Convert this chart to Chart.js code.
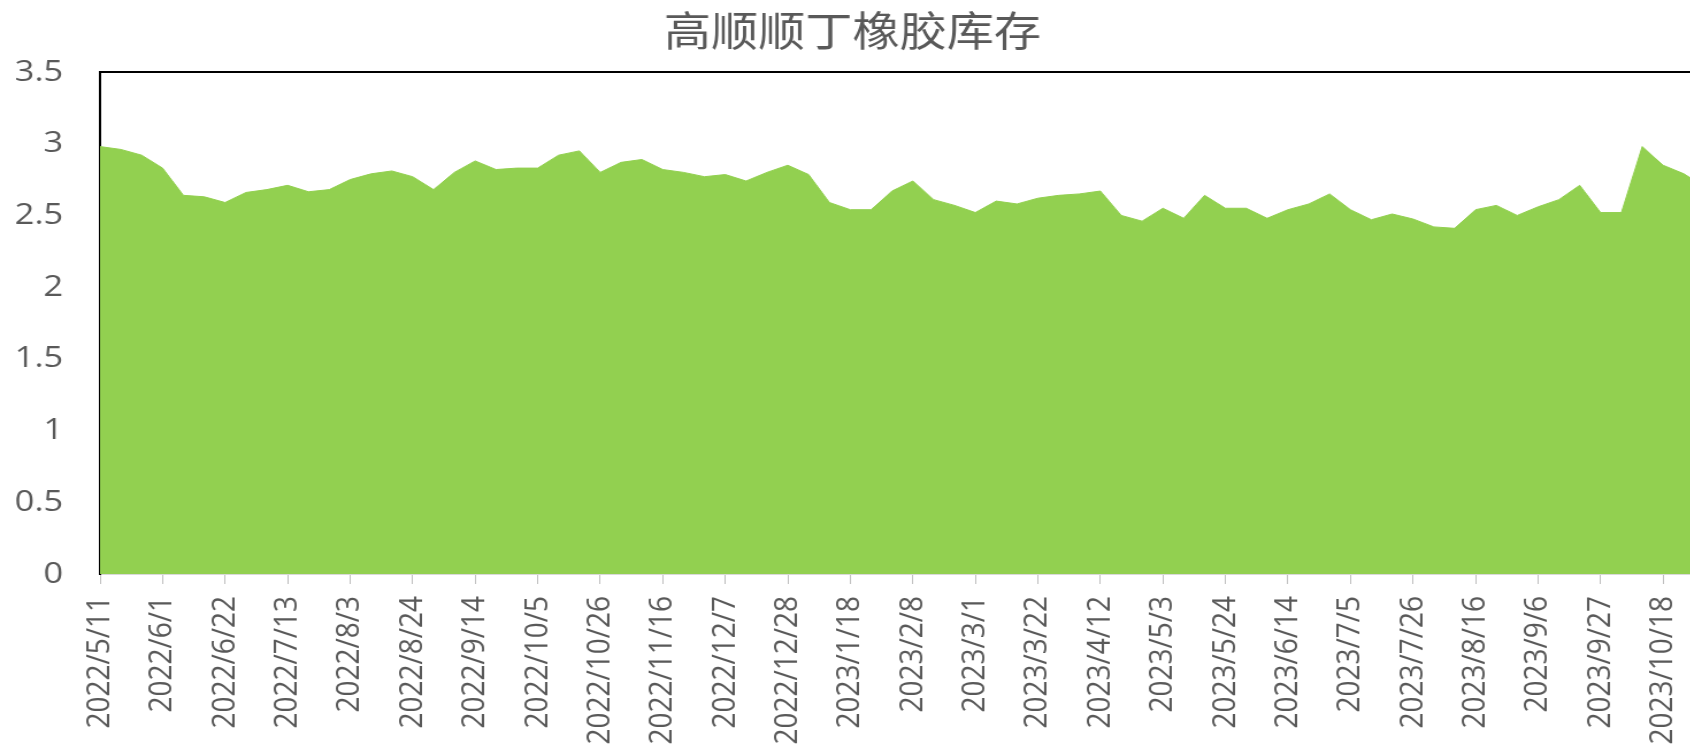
<!DOCTYPE html>
<html>
<head>
<meta charset="utf-8">
<script src="https://cdn.jsdelivr.net/npm/chart.js@4/dist/chart.umd.min.js"></script>
<style>
  html, body { margin: 0; padding: 0; overflow: hidden; background: #fff; }
  #wrap { width: 1496px; height: 800px; transform: scaleX(1.15); transform-origin: 0 0; }
</style>
</head>
<body>
<div id="wrap"><canvas id="myChart" width="1496" height="800"></canvas></div>
<script>
// weekly dates
const dates = [
  '2022/5/11','2022/5/18','2022/5/25','2022/6/1','2022/6/8','2022/6/15','2022/6/22','2022/6/29',
  '2022/7/6','2022/7/13','2022/7/20','2022/7/27','2022/8/3','2022/8/10','2022/8/17','2022/8/24',
  '2022/8/31','2022/9/7','2022/9/14','2022/9/21','2022/9/28','2022/10/5','2022/10/12','2022/10/19',
  '2022/10/26','2022/11/2','2022/11/9','2022/11/16','2022/11/23','2022/11/30','2022/12/7','2022/12/14',
  '2022/12/21','2022/12/28','2023/1/4','2023/1/11','2023/1/18','2023/1/25','2023/2/1','2023/2/8',
  '2023/2/15','2023/2/22','2023/3/1','2023/3/8','2023/3/15','2023/3/22','2023/3/29','2023/4/5',
  '2023/4/12','2023/4/19','2023/4/26','2023/5/3','2023/5/10','2023/5/17','2023/5/24','2023/5/31',
  '2023/6/7','2023/6/14','2023/6/21','2023/6/28','2023/7/5','2023/7/12','2023/7/19','2023/7/26',
  '2023/8/2','2023/8/9','2023/8/16','2023/8/23','2023/8/30','2023/9/6','2023/9/13','2023/9/20',
  '2023/9/27','2023/10/4','2023/10/11','2023/10/18','2023/10/25','2023/11/1'
];

// inventory (万吨)
const stock = [
  2.98, 2.96, 2.92, 2.83, 2.64, 2.63, 2.59, 2.66,
  2.68, 2.71, 2.665, 2.68, 2.75, 2.79, 2.81, 2.77,
  2.68, 2.80, 2.88, 2.82, 2.83, 2.83, 2.92, 2.95,
  2.80, 2.87, 2.89, 2.82, 2.80, 2.77, 2.785, 2.74,
  2.80, 2.85, 2.785, 2.59, 2.54, 2.54, 2.67, 2.74,
  2.61, 2.57, 2.52, 2.60, 2.58, 2.62, 2.64, 2.65,
  2.67, 2.50, 2.46, 2.55, 2.48, 2.64, 2.55, 2.55,
  2.48, 2.54, 2.58, 2.65, 2.54, 2.47, 2.51, 2.475,
  2.42, 2.41, 2.54, 2.57, 2.50, 2.56, 2.61, 2.71,
  2.52, 2.52, 2.98, 2.85, 2.79, 2.70
];

const yTicks = [0, 0.5, 1, 1.5, 2, 2.5, 3, 3.5];
const labelEvery = 3;

const grey = '#595959';

const config = {
  type: 'line',
  data: {
    labels: dates,
    datasets: [{
      label: '高顺顺丁橡胶库存',
      data: stock,
      fill: 'origin',
      backgroundColor: '#92d050',
      borderColor: '#92d050',
      borderWidth: 1,
      pointRadius: 0,
      tension: 0
    }]
  },
  options: {
    responsive: false,
    animation: false,
    layout: { padding: { left: 0, right: 13.6, top: 0, bottom: 0 } },
    plugins: {
      legend: { display: false },
      tooltip: { enabled: false },
      title: {
        display: true,
        text: '高顺顺丁橡胶库存',
        color: grey,
        font: { family: '"Noto Sans CJK SC"', size: 41, weight: 'normal', lineHeight: 1.2 },
        padding: { top: 6, bottom: 16.8 }
      }
    },
    scales: {
      x: {
        type: 'category',
        offset: false,
        grid: {
          drawOnChartArea: false,
          drawTicks: true,
          tickLength: 10,
          color: ctx => (ctx.index % labelEvery === 0 ? '#bfbfbf' : 'rgba(0,0,0,0)')
        },
        border: { display: true, color: '#d9d9d9', width: 1 },
        ticks: {
          autoSkip: false,
          maxRotation: 90,
          minRotation: 90,
          padding: 12,
          color: grey,
          font: { family: '"Open Sans"', size: 28 },
          callback: function (v, i) { return i % labelEvery === 0 ? dates[i] : ''; }
        },
        afterFit: s => { s.height = 800 - 574; s.paddingLeft = 0; s.paddingRight = 0; }
      },
      x2: {
        type: 'category',
        position: 'top',
        offset: false,
        grid: { display: true, drawOnChartArea: false, drawTicks: false },
        border: { display: true, color: '#000', width: 2 },
        ticks: { display: false },
        afterFit: s => { s.height = 0; s.paddingLeft = 0; s.paddingRight = 0; }
      },
      y: {
        min: 0,
        max: 3.5,
        grid: { display: false, drawTicks: false },
        border: { display: true, color: '#000', width: 2 },
        afterBuildTicks: s => { s.ticks = yTicks.map(v => ({ value: v })); },
        ticks: {
          padding: 32,
          color: grey,
          font: { family: '"Open Sans"', size: 30 },
          callback: v => String(v)
        },
        afterFit: s => { s.width = 87; }
      }
    }
  }
};

const myChart = new Chart(document.getElementById('myChart'), config);
</script>
</body>
</html>
